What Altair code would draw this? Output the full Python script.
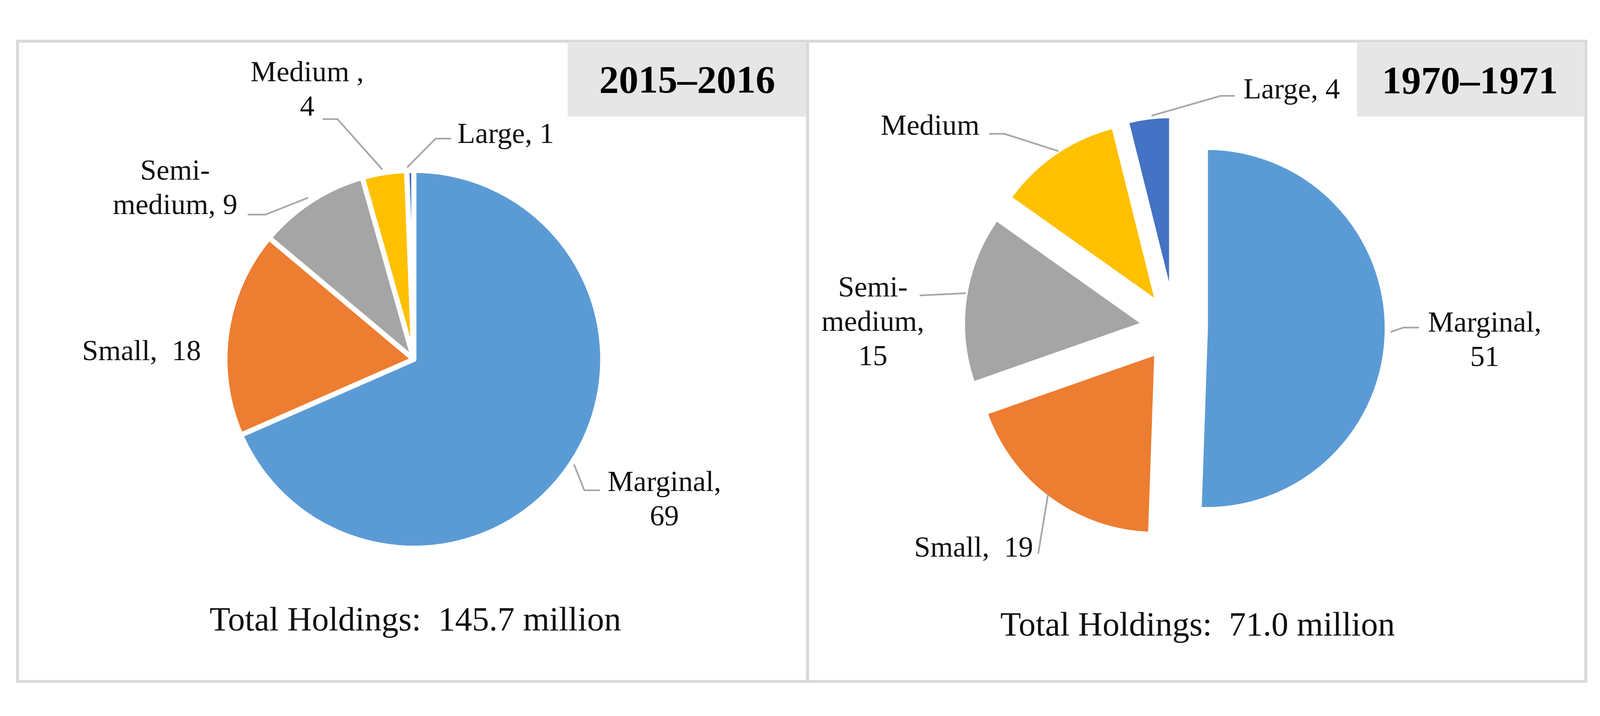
import altair as alt
import pandas as pd

# ---------------- data ----------------
NB = "\u00a0"
categories = ["Marginal", "Small", "Semi-medium", "Medium", "Large"]
share_2015 = [68.5, 17.7, 9.5, 3.8, 0.6]
share_1970 = [50.6, 19.1, 15.2, 11.3, 3.9]
labels_2015 = ["Marginal,\n69", "Small," + NB + " 18", "Semi-\nmedium, 9", "Medium ,\n4", "Large, 1"]
labels_1970 = ["Marginal,\n51", "Small," + NB + " 19", "Semi-\nmedium,\n15", "Medium", "Large, 4"]
titles = ["2015\u20132016", "1970\u20131971"]
totals = ["Total Holdings:" + NB + " 145.7 million", "Total Holdings:" + NB + " 71.0 million"]
colors = ["#5B9BD5", "#ED7D31", "#A5A5A5", "#FFC000", "#4472C4"]

# ---------------- layout (pixel-like coordinates of the 4335x1833 canvas) ----------------
W, H = 4335, 1833
FONT = "Liberation Serif"
panels = pd.DataFrame({"x0": [47, 2188], "x1": [2188, 4297], "y0": [58, 58], "y1": [1793, 1793]})
title_boxes = pd.DataFrame({"x0": [1538, 3677], "x1": [2184, 4292], "y0": [63, 63], "y1": [262, 262],
                            "tx": [1862, 3983], "ty": [197, 199], "title": titles})
total_pos = pd.DataFrame({"tx": [1125, 3245], "ty": [1655, 1669], "text": totals})
pies = [dict(cx=1121, cy=920, r=505, d=0, sw=14), dict(cx=3183, cy=835, r=484, d=85, sw=10)]
label_xy_2015 = [(1800, 1277), (383, 922), (474, 433), (832, 167), (1370, 334)]
label_xy_1970 = [(4023, 845), (2638, 1455), (2365, 750), (2520, 312), (3500, 213)]
leaders = [
    [(874, 269), (914, 269), (1036, 406)],
    [(1103, 400), (1180, 322), (1222, 322)],
    [(671, 528), (719, 528), (835, 482)],
    [(1555, 1205), (1583, 1275), (1625, 1275)],
    [(3120, 260), (3308, 206), (3346, 206)],
    [(2680, 309), (2722, 309), (2868, 356)],
    [(2492, 747), (2617, 741)],
    [(2813, 1447), (2840, 1284)],
    [(3768, 846), (3803, 834), (3845, 834)],
]

xs = alt.Scale(domain=[8, W - 8], nice=False, zero=False)
ys = alt.Scale(domain=[H - 8, 8], nice=False, zero=False)
X = lambda f: alt.X(f, type="quantitative", scale=xs, axis=None)
Y = lambda f: alt.Y(f, type="quantitative", scale=ys, axis=None)
color = alt.Color("cat:N", scale=alt.Scale(domain=categories, range=colors), legend=None)

layers = []

# panel borders
layers.append(alt.Chart(panels).mark_rect(fillOpacity=0, stroke="#d9d9d9", strokeWidth=8).encode(
    x=X("x0"), x2="x1", y=Y("y0"), y2="y1"))
# title boxes
layers.append(alt.Chart(title_boxes).mark_rect(fill="#e6e6e6").encode(
    x=X("x0"), x2="x1", y=Y("y0"), y2="y1"))
layers.append(alt.Chart(title_boxes).mark_text(font=FONT, fontSize=106, fontWeight="bold", color="#000",
                                               align="center", baseline="alphabetic").encode(
    x=X("tx"), y=Y("ty"), text="title:N"))

# pies
for shares, p in zip([share_2015, share_1970], pies):
    df = pd.DataFrame({"cat": categories, "share": shares, "k": list(range(len(shares)))})
    ch = (alt.Chart(df)
          .transform_joinaggregate(total="sum(share)")
          .transform_window(cum="sum(share)", sort=[alt.SortField("k")], frame=[None, 0])
          .transform_calculate(t1="datum.cum / datum.total * 2 * PI")
          .transform_calculate(t0="(datum.cum - datum.share) / datum.total * 2 * PI")
          .transform_calculate(mid="(datum.t0 + datum.t1) / 2")
          .transform_calculate(px=f"{p['cx']} + {p['d']} * sin(datum.mid)")
          .transform_calculate(py=f"{p['cy']} - {p['d']} * cos(datum.mid)")
          .mark_arc(outerRadius=p["r"] + p["sw"] / 2, stroke="white", strokeWidth=p["sw"], strokeJoin="round")
          .encode(x=X("px"), y=Y("py"),
                  theta=alt.Theta("t0:Q", scale=None, stack=None), theta2="t1:Q",
                  color=color))
    layers.append(ch)

# leader lines
rows = []
for i, pts in enumerate(leaders):
    for j, (lx, ly) in enumerate(pts):
        rows.append({"id": i, "k": j, "lx": lx, "ly": ly})
layers.append(alt.Chart(pd.DataFrame(rows)).mark_line(color="#a6a6a6", strokeWidth=4.5).encode(
    x=X("lx"), y=Y("ly"), detail="id:N", order="k:Q"))

# slice labels
lab = pd.DataFrame({
    "text": labels_2015 + labels_1970,
    "tx": [p[0] for p in label_xy_2015 + label_xy_1970],
    "ty": [p[1] for p in label_xy_2015 + label_xy_1970],
})
layers.append(alt.Chart(lab).mark_text(font=FONT, fontSize=79, color="#111", align="center",
                                       baseline="alphabetic", lineBreak="\n", lineHeight=93).encode(
    x=X("tx"), y=Y("ty"), text="text:N"))

# totals
layers.append(alt.Chart(total_pos).mark_text(font=FONT, fontSize=92, color="#111", align="center",
                                             baseline="alphabetic").encode(
    x=X("tx"), y=Y("ty"), text="text:N"))

chart = alt.layer(*layers).properties(
    width=W - 16, height=H - 16,
    autosize=alt.AutoSizeParams(type="fit", contains="padding"),
    padding=0, background="white",
).configure_view(stroke=None)

chart.save("out.html", embed_options={"renderer": "svg", "actions": False})
